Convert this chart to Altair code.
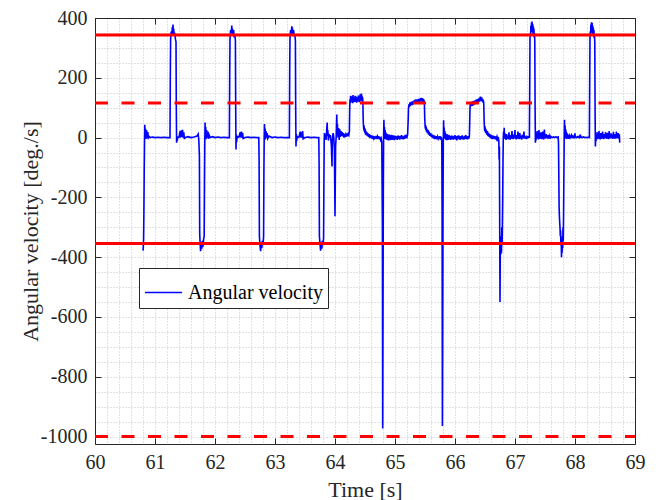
import altair as alt
import pandas as pd

# ---------------- data ----------------
seg_a = [(60.800, -378), (60.805, -365), (60.810, -340), (60.815, -250), (60.820, -120), (60.825, -20),
         (60.830, 43), (60.835, 0), (60.840, 30), (60.845, -5), (60.850, 22), (60.855, 2), (60.860, 25),
         (60.870, -3), (60.880, 18), (60.890, 0), (60.900, 4), (60.920, 0), (60.960, 2), (61.000, 0),
         (61.050, 1), (61.100, 0), (61.150, 1), (61.200, 0), (61.250, 0),
         (61.255, 200), (61.260, 330), (61.270, 355), (61.280, 345), (61.290, 370), (61.295, 350),
         (61.300, 378), (61.305, 345), (61.310, 365), (61.320, 340), (61.330, 350), (61.340, 330),
         (61.350, 320), (61.355, 100), (61.360, -17), (61.365, 5), (61.370, -10), (61.380, 0),
         (61.400, 2), (61.420, 22), (61.425, 0), (61.440, 24), (61.445, 2), (61.460, 26), (61.465, 0),
         (61.480, 18), (61.490, -5), (61.500, 0), (61.550, 3), (61.600, 0), (61.650, 2), (61.700, 5),
         (61.720, 12), (61.730, -8)]
seg_b = [(61.740, -60), (61.745, -320), (61.750, -345), (61.760, -380), (61.770, -355), (61.780, -372),
         (61.790, -345), (61.800, -365), (61.810, -340), (61.820, -330), (61.825, -150), (61.830, -10),
         (61.835, 50), (61.840, 0), (61.845, 35), (61.850, -5), (61.860, 25), (61.870, 0), (61.880, 20),
         (61.890, -4), (61.900, 10), (61.920, 0), (61.960, 3), (62.000, 0), (62.050, 2), (62.100, 0),
         (62.150, 1), (62.200, 0), (62.240, 0),
         (62.245, 200), (62.250, 330), (62.260, 360), (62.270, 348), (62.280, 375), (62.285, 350),
         (62.290, 365), (62.300, 342), (62.310, 360), (62.320, 335), (62.330, 345), (62.340, 325),
         (62.345, 100), (62.350, -40), (62.355, 10), (62.360, -15), (62.370, 5), (62.380, 0),
         (62.400, 3), (62.420, 18), (62.425, 0), (62.440, 20), (62.445, 0), (62.460, 16), (62.470, -3),
         (62.500, 0), (62.550, 2), (62.600, 0), (62.650, 1), (62.700, 0), (62.730, 0)]
seg_c = [(62.735, -80), (62.740, -330), (62.750, -360), (62.760, -380), (62.770, -350), (62.780, -370),
         (62.790, -345), (62.800, -360), (62.810, -330), (62.815, -120), (62.820, 0), (62.825, 45),
         (62.830, 0), (62.835, 30), (62.840, -6), (62.850, 22), (62.860, 0), (62.870, 15), (62.880, -3),
         (62.900, 5), (62.950, 0), (63.000, 2), (63.050, 0), (63.100, 1), (63.150, 0), (63.200, 0),
         (63.240, 0),
         (63.245, 220), (63.250, 335), (63.260, 360), (63.270, 345), (63.280, 372), (63.285, 350),
         (63.290, 368), (63.300, 340), (63.310, 360), (63.320, 338), (63.330, 345), (63.340, 325),
         (63.345, 90), (63.350, -30), (63.355, 12), (63.360, -12), (63.370, 5), (63.380, 0),
         (63.400, 2), (63.420, 20), (63.425, 0), (63.440, 18), (63.445, 0), (63.460, 22), (63.470, -4),
         (63.500, 0), (63.550, 2), (63.600, 0), (63.650, 1), (63.700, 0), (63.730, 0)]
seg_d = [(63.735, -90), (63.740, -330), (63.750, -355), (63.760, -378), (63.770, -350), (63.780, -372),
         (63.790, -345), (63.800, -360), (63.810, -335), (63.815, -150), (63.820, -10), (63.825, 15),
         (63.830, 0), (63.840, 10), (63.850, -8), (63.860, 20), (63.870, 50), (63.875, 5), (63.880, 25),
         (63.890, -10), (63.900, 12), (63.910, 0), (63.920, 8), (63.930, -5), (63.940, -30),
         (63.950, -97), (63.955, -20), (63.960, 5), (63.970, 15), (63.980, 0), (63.990, -40),
         (64.000, -263), (64.005, -150), (64.010, -30), (64.020, 5), (64.030, 77), (64.035, 10),
         (64.040, 45), (64.050, 0), (64.060, 32), (64.070, -8), (64.080, 28), (64.090, 2), (64.100, 22),
         (64.110, 6), (64.120, 18), (64.130, 4), (64.140, 15), (64.150, 0), (64.160, 12), (64.170, 2),
         (64.180, 10), (64.190, 3), (64.200, 14), (64.210, 5), (64.220, 12), (64.230, 8), (64.240, 20),
         (64.245, 95), (64.250, 128), (64.255, 115), (64.260, 140), (64.265, 120), (64.270, 132),
         (64.275, 118), (64.280, 138), (64.285, 122), (64.290, 130), (64.295, 115), (64.300, 142),
         (64.305, 125), (64.310, 133), (64.315, 118), (64.320, 136), (64.325, 121), (64.330, 128),
         (64.335, 140), (64.340, 119), (64.345, 131), (64.350, 124), (64.355, 137), (64.360, 117),
         (64.365, 129), (64.370, 135), (64.375, 120), (64.380, 132), (64.385, 126), (64.390, 141),
         (64.395, 122), (64.400, 130), (64.405, 118), (64.410, 136), (64.415, 124), (64.420, 145),
         (64.425, 128), (64.430, 138), (64.435, 121), (64.440, 147), (64.445, 130), (64.450, 140),
         (64.455, 125), (64.460, 135), (64.465, 118),
         (64.470, 60), (64.475, 38), (64.480, 25), (64.485, 40), (64.490, 20), (64.495, 32), (64.500, 15),
         (64.505, 28), (64.510, 10), (64.515, 22), (64.520, 8), (64.530, 18), (64.540, 5), (64.550, 14),
         (64.560, 2), (64.570, 12), (64.580, -2), (64.590, 9), (64.600, 0), (64.610, 7), (64.620, -4),
         (64.630, 6), (64.640, -2), (64.650, 5), (64.660, -6), (64.670, 4), (64.680, -3), (64.690, 6),
         (64.700, -5), (64.710, 3), (64.720, -4), (64.730, 5), (64.740, -6), (64.750, 2), (64.760, -8),
         (64.770, -3), (64.780, -15)]
seg_e = [(64.790, -300), (64.795, -973), (64.800, -600), (64.805, -200), (64.810, 0), (64.815, 60),
         (64.820, 5), (64.825, 35), (64.830, -5), (64.835, 25), (64.840, 0), (64.845, 18), (64.850, -6),
         (64.855, 14), (64.860, -3), (64.865, 10), (64.870, -8), (64.875, 12), (64.880, -5), (64.885, 8),
         (64.890, -10), (64.895, 6), (64.900, -4), (64.905, 10), (64.910, -7), (64.915, 5), (64.920, -9),
         (64.925, 7), (64.930, -3), (64.935, 9), (64.940, -6), (64.945, 4), (64.950, -8), (64.955, 6),
         (64.960, -4), (64.965, 8), (64.970, -7), (64.975, 3), (64.980, -5), (64.985, 7), (64.990, -9),
         (64.995, 5), (65.000, -3), (65.010, 6), (65.020, -6), (65.030, 4), (65.040, -8), (65.050, 7),
         (65.060, -4), (65.070, 5), (65.080, -7), (65.090, 6), (65.100, -3), (65.110, 8), (65.120, -5),
         (65.130, 4), (65.140, -6), (65.150, 6), (65.160, -4), (65.170, 9), (65.180, -2), (65.190, 5),
         (65.200, 2), (65.210, 10),
         (65.220, 60), (65.225, 98), (65.230, 105), (65.235, 112), (65.240, 102), (65.245, 110),
         (65.250, 118), (65.255, 106), (65.260, 115), (65.265, 109), (65.270, 120), (65.275, 112),
         (65.280, 118), (65.285, 108), (65.290, 121), (65.295, 114), (65.300, 119), (65.305, 111),
         (65.310, 124), (65.315, 115), (65.320, 120), (65.325, 113), (65.330, 126), (65.335, 117),
         (65.340, 122), (65.345, 115), (65.350, 128), (65.355, 118), (65.360, 124), (65.365, 116),
         (65.370, 127), (65.375, 119), (65.380, 125), (65.385, 117), (65.390, 130), (65.395, 121),
         (65.400, 126), (65.405, 118), (65.410, 129), (65.415, 120), (65.420, 131), (65.425, 122),
         (65.430, 127), (65.435, 133), (65.440, 121), (65.445, 128), (65.450, 124), (65.455, 132),
         (65.460, 119), (65.465, 127), (65.470, 122), (65.475, 130), (65.480, 118), (65.485, 125),
         (65.490, 115),
         (65.495, 70), (65.500, 45), (65.505, 30), (65.510, 42), (65.515, 25), (65.520, 36), (65.525, 20),
         (65.530, 30), (65.540, 15), (65.550, 26), (65.560, 10), (65.570, 20), (65.580, 6), (65.590, 15),
         (65.600, 3), (65.610, 12), (65.620, 0), (65.630, 9), (65.640, -3), (65.650, 7), (65.660, -5),
         (65.670, 6), (65.680, -4), (65.690, 5), (65.700, -6), (65.710, 3), (65.720, -3), (65.730, 4),
         (65.740, -5), (65.750, 5), (65.760, -7), (65.770, 2), (65.780, -12)]
seg_f = [(65.785, -250), (65.790, -965), (65.795, -650), (65.800, -250), (65.805, -10), (65.810, 58),
         (65.815, 8), (65.820, 34), (65.825, -4), (65.830, 22), (65.835, -2), (65.840, 16), (65.845, -7),
         (65.850, 12), (65.855, -4), (65.860, 9), (65.865, -9), (65.870, 11), (65.875, -5), (65.880, 7),
         (65.885, -8), (65.890, 6), (65.895, -3), (65.900, 9), (65.910, -6), (65.920, 5), (65.930, -8),
         (65.940, 7), (65.950, -4), (65.960, 6), (65.970, -7), (65.980, 4), (65.990, -5), (66.000, 8),
         (66.010, -6), (66.020, 5), (66.030, -9), (66.040, 6), (66.050, -3), (66.060, 7), (66.070, -6),
         (66.080, 4), (66.090, -8), (66.100, 5), (66.110, -4), (66.120, 7), (66.130, -6), (66.140, 3),
         (66.150, -7), (66.160, 6), (66.170, -4), (66.180, 8), (66.190, -5), (66.200, 4), (66.210, -6),
         (66.220, 5), (66.230, -3), (66.240, 6),
         (66.245, 50), (66.250, 100), (66.255, 112), (66.260, 104), (66.265, 116), (66.270, 108),
         (66.275, 120), (66.280, 110), (66.285, 117), (66.290, 106), (66.295, 121), (66.300, 113),
         (66.305, 119), (66.310, 108), (66.315, 123), (66.320, 115), (66.325, 120), (66.330, 111),
         (66.335, 125), (66.340, 117), (66.345, 122), (66.350, 114), (66.355, 127), (66.360, 119),
         (66.365, 124), (66.370, 116), (66.375, 129), (66.380, 121), (66.385, 126), (66.390, 118),
         (66.395, 131), (66.400, 123), (66.405, 128), (66.410, 120), (66.415, 134), (66.420, 125),
         (66.425, 137), (66.430, 127), (66.435, 132), (66.440, 122), (66.445, 135), (66.450, 126),
         (66.455, 130), (66.460, 120), (66.465, 128), (66.470, 116), (66.475, 124), (66.480, 110),
         (66.485, 60), (66.490, 35), (66.495, 22), (66.500, 38), (66.505, 18), (66.510, 30), (66.515, 15),
         (66.520, 26), (66.530, 10), (66.540, 22), (66.550, 5), (66.560, 16), (66.570, 2), (66.580, 12),
         (66.590, -2), (66.600, 9), (66.610, -4), (66.620, 7), (66.630, -5), (66.640, 6), (66.650, -3),
         (66.660, 5), (66.670, -6), (66.680, 4), (66.690, -4), (66.700, 3), (66.710, -5), (66.720, 2),
         (66.730, -10), (66.735, -73), (66.740, -30)]
seg_g = [(66.745, -290), (66.750, -550), (66.755, -380), (66.760, -330), (66.765, -390), (66.770, -340),
         (66.775, -385), (66.780, -300), (66.785, -360), (66.790, -290), (66.795, -200), (66.800, -80),
         (66.805, 0), (66.810, 20), (66.815, 5), (66.820, 33), (66.825, 0), (66.830, 15), (66.835, -5),
         (66.840, 10), (66.850, -8), (66.860, 12), (66.870, -3), (66.880, 6), (66.890, -6), (66.900, 18),
         (66.905, -2), (66.910, 4), (66.920, -7), (66.930, 8), (66.940, -4), (66.950, 22), (66.955, 0),
         (66.960, 6), (66.970, -5), (66.980, 10), (66.990, -3), (67.000, 25), (67.005, -2), (67.010, 5),
         (67.020, -6), (67.030, 8), (67.040, -4), (67.050, 20), (67.055, 0), (67.060, 7), (67.070, -5),
         (67.080, 15), (67.090, -3), (67.100, 6), (67.110, -7), (67.120, 9), (67.130, -2), (67.140, 5),
         (67.150, 20), (67.155, -4), (67.160, 6), (67.170, -3), (67.180, 4), (67.190, -5), (67.200, 3),
         (67.210, 0), (67.220, 2), (67.230, 0), (67.240, 1),
         (67.245, 150), (67.250, 330), (67.255, 350), (67.260, 340), (67.265, 375), (67.270, 355),
         (67.275, 385), (67.280, 360), (67.285, 388), (67.290, 352), (67.295, 380), (67.300, 345),
         (67.305, 372), (67.310, 340), (67.315, 365), (67.320, 335), (67.325, 350), (67.330, 320),
         (67.335, 100), (67.340, -17), (67.345, 8), (67.350, -10), (67.355, 15), (67.360, 0),
         (67.370, 22), (67.375, -3), (67.380, 10), (67.390, -6), (67.400, 25), (67.405, 0), (67.410, 8),
         (67.420, -4), (67.430, 18), (67.435, -2), (67.440, 6), (67.450, -5), (67.460, 20), (67.465, 0),
         (67.470, 4), (67.480, -6), (67.490, 27), (67.495, 0), (67.500, 5), (67.510, -3), (67.520, 12),
         (67.530, -2), (67.540, 8), (67.550, 0), (67.560, 4), (67.570, -3), (67.580, 6), (67.590, 0),
         (67.600, 3), (67.620, 0), (67.640, 2), (67.660, 0), (67.680, 3), (67.700, 0), (67.720, 2),
         (67.725, -20)]
seg_h = [(67.730, -120), (67.735, -230), (67.740, -263), (67.745, -285), (67.750, -300), (67.755, -330),
         (67.760, -310), (67.765, -360), (67.770, -340), (67.775, -400), (67.780, -355), (67.785, -385),
         (67.790, -330), (67.795, -370), (67.800, -300), (67.805, -345), (67.810, -250), (67.815, -120),
         (67.820, 0), (67.825, 60), (67.830, 10), (67.835, 40), (67.840, -3), (67.845, 28), (67.850, 0),
         (67.855, 20), (67.860, -5), (67.870, 14), (67.880, -3), (67.890, 10), (67.900, -4), (67.910, 6),
         (67.920, 0), (67.940, 8), (67.950, -2), (67.960, 5), (67.980, 0), (68.000, 14), (68.005, -2),
         (68.010, 3), (68.030, 0), (68.050, 4), (68.070, 0), (68.090, 10), (68.095, -2), (68.100, 3),
         (68.120, 0), (68.140, 2), (68.160, 0), (68.180, 1), (68.200, 0), (68.220, 1), (68.240, 0),
         (68.245, 180), (68.250, 335), (68.255, 355), (68.260, 345), (68.265, 378), (68.270, 352),
         (68.275, 386), (68.280, 360), (68.285, 384), (68.290, 350), (68.295, 375), (68.300, 342),
         (68.305, 368), (68.310, 338), (68.315, 360), (68.320, 332), (68.325, 345), (68.330, 315),
         (68.335, 80), (68.340, -30), (68.345, 5), (68.350, -12), (68.355, 10), (68.360, 0), (68.370, 18),
         (68.375, -5), (68.380, 8), (68.390, -4), (68.400, 22), (68.405, 0), (68.410, 6), (68.420, -6),
         (68.430, 15), (68.435, -2), (68.440, 5), (68.450, -4), (68.460, 20), (68.465, -1), (68.470, 6),
         (68.480, -5), (68.490, 12), (68.500, -2), (68.510, 18), (68.515, 0), (68.520, 5), (68.530, -4),
         (68.540, 16), (68.545, -2), (68.550, 6), (68.560, -5), (68.570, 22), (68.575, 0), (68.580, 8),
         (68.590, -3), (68.600, 14), (68.610, -2), (68.620, 10), (68.630, -4), (68.640, 19), (68.645, 0),
         (68.650, 6), (68.660, -3), (68.670, 12), (68.680, -4), (68.690, 20), (68.695, 0), (68.700, 8),
         (68.710, -2), (68.720, 15), (68.730, 2), (68.740, 5), (68.745, -17)]

solid_limits = [343, -354]
dashed_limits = [116, -1000]
time_range = [60, 69]
series_name = "Angular velocity"

# ---------------- build tables ----------------
trace = seg_a + seg_b + seg_c + seg_d + seg_e + seg_f + seg_g + seg_h
df = pd.DataFrame(trace, columns=["t", "w"])
df["series"] = series_name
solid_df = pd.DataFrame({"level": solid_limits, "x0": time_range[0], "x1": time_range[1]})
dashed_df = pd.DataFrame({"level": dashed_limits, "x0": time_range[0], "x1": time_range[1]})

FONT = "Liberation Serif"
AX = "#262626"
GRID = "#c4c4c4"

x_vals = [round(60 + 0.2 * i, 1) for i in range(46)]
y_vals = list(range(-1000, 401, 50))
x_major = [60, 61, 62, 63, 64, 65, 66, 67, 68, 69]
y_major = [-1000, -800, -600, -400, -200, 0, 200, 400]
is_major_x = "abs(datum.value - round(datum.value)) < 0.001"
is_major_y = "abs(datum.value % 200) < 0.5"

x_scale = alt.Scale(domain=[60, 69], nice=False, zero=False)
y_scale = alt.Scale(domain=[-1025, 400], nice=False, zero=False)

x_axis = alt.Axis(
    values=x_vals, grid=True, gridDash=[1, 2], gridColor=GRID, gridWidth=1,
    labelExpr=f"{is_major_x} ? '' + round(datum.value) : ''",
    labelFont=FONT, labelFontSize=20, labelColor=AX, labelFlush=False, labelOverlap=False,
    labelPadding=14, tickSize={"expr": "-6"}, tickColor=AX,
    tickOpacity={"condition": {"test": is_major_x, "value": 1}, "value": 0},
    domainColor=AX, title="Time [s]", titleFont=FONT, titleFontSize=22, titleFontWeight="normal",
    titleColor=AX, titleX=270, titleY=45, titleBaseline="middle", orient="bottom")
y_axis = alt.Axis(
    values=y_vals, grid=True, gridDash=[1, 2], gridColor=GRID, gridWidth=1,
    labelExpr=f"{is_major_y} ? '' + datum.value : ''",
    labelFont=FONT, labelFontSize=20, labelColor=AX, labelFlush=False, labelOverlap=False,
    labelPadding=14, tickSize={"expr": "-6"}, tickColor=AX,
    tickOpacity={"condition": {"test": is_major_y, "value": 1}, "value": 0},
    domainColor=AX, title="Angular velocity [deg./s]", titleFont=FONT, titleFontSize=22,
    titleFontWeight="normal", titleColor=AX, titleX=-65, titleY=213, titleBaseline="middle",
    titleAlign="center", titleAngle=270, orient="left")
x_axis_top = alt.Axis(values=x_major, grid=False, labels=False, tickSize={"expr": "-6"}, tickColor=AX,
                      domainColor=AX, title=None, orient="top")
y_axis_right = alt.Axis(values=y_major, grid=False, labels=False, tickSize={"expr": "-6"}, tickColor=AX,
                        domainColor=AX, title=None, orient="right")

line = alt.Chart(df).mark_line(strokeWidth=1.6, clip=True).encode(
    x=alt.X("t:Q", scale=x_scale, axis=x_axis),
    y=alt.Y("w:Q", scale=y_scale, axis=y_axis),
    color=alt.Color("series:N", scale=alt.Scale(range=["#0000ff"]),
                    legend=alt.Legend(title=None, orient="none", legendX=44, legendY=250,
                                      symbolType="stroke", symbolSize=1369, symbolStrokeWidth=1.5,
                                      labelFont=FONT, labelFontSize=20, labelColor="black",
                                      labelOffset=5, strokeColor=AX, fillColor="white", padding=5)),
)

dashed = alt.Chart(dashed_df).mark_rule(color="#ff0000", strokeWidth=3, strokeDash=[13, 13.5]).encode(
    x=alt.X("x0:Q", scale=x_scale, axis=x_axis),
    x2="x1:Q",
    y=alt.Y("level:Q", scale=y_scale, axis=y_axis),
)

solid = alt.Chart(solid_df).mark_rule(color="#ff0000", strokeWidth=3).encode(
    x=alt.X("x0:Q", scale=x_scale, axis=x_axis_top),
    x2="x1:Q",
    y=alt.Y("level:Q", scale=y_scale, axis=y_axis_right),
)

chart = alt.layer(alt.layer(line, dashed), solid).resolve_axis(
    x="independent", y="independent"
).properties(
    width=540, height=426,
    padding={"left": 95, "top": 18, "right": 21, "bottom": 56},
    autosize=alt.AutoSizeParams(type="none"),
    background="white",
).configure_view(stroke=None)

chart.save("out.html", embed_options={"renderer": "svg", "actions": False})
